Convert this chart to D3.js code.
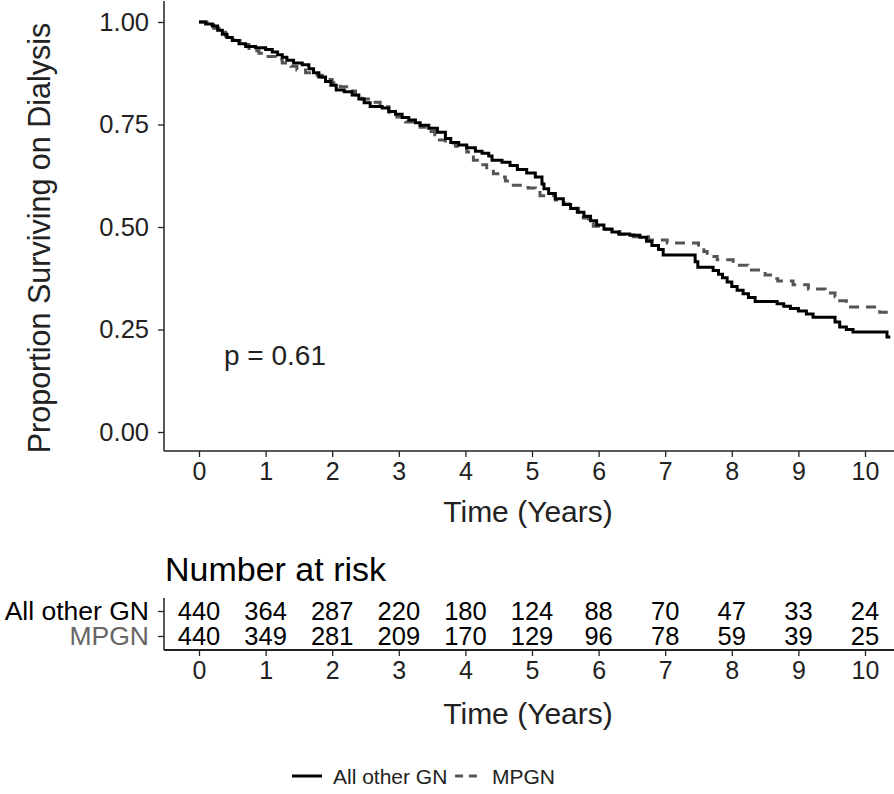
<!DOCTYPE html>
<html>
<head>
<meta charset="utf-8">
<script src="https://cdn.jsdelivr.net/npm/d3@7"></script>
<style>
  html, body { margin: 0; padding: 0; background: #fff; }
  svg { display: block; font-family: "Liberation Sans", Arial, Helvetica, sans-serif; }
</style>
</head>
<body>
<svg id="chart" width="894" height="794"></svg>
<script>
// ---------- DATA ----------
const groups = ["All other GN", "MPGN"];
const xTicks = [0, 1, 2, 3, 4, 5, 6, 7, 8, 9, 10];
const yTicks = [0, 0.25, 0.5, 0.75, 1];
const yTickLabels = ["0.00", "0.25", "0.50", "0.75", "1.00"];
const pValueLabel = "p = 0.61";

// Kaplan-Meier step estimates (time in years, survival proportion)
const otherTime = [0, 0.10, 0.20, 0.28, 0.35, 0.42, 0.50, 0.60, 0.70, 0.85, 1.00, 1.10, 1.18, 1.25, 1.32, 1.42, 1.55, 1.65, 1.72, 1.80, 1.90, 1.98, 2.06, 2.18, 2.30, 2.40, 2.48, 2.57, 2.75, 2.85, 2.95, 3.05, 3.15, 3.25, 3.32, 3.45, 3.58, 3.70, 3.78, 3.90, 4.02, 4.15, 4.25, 4.35, 4.40, 4.55, 4.67, 4.78, 4.92, 5.05, 5.15, 5.18, 5.25, 5.35, 5.47, 5.58, 5.68, 5.78, 5.88, 5.97, 6.08, 6.20, 6.30, 6.47, 6.62, 6.72, 6.80, 6.90, 6.97, 7.45, 7.49, 7.72, 7.80, 7.86, 7.93, 8.00, 8.08, 8.17, 8.25, 8.35, 8.68, 8.78, 8.88, 9.00, 9.12, 9.22, 9.55, 9.62, 9.72, 9.82, 10.33, 10.38];
const otherSurv = [1.000, 0.995, 0.990, 0.980, 0.970, 0.962, 0.955, 0.947, 0.940, 0.937, 0.933, 0.927, 0.920, 0.914, 0.907, 0.900, 0.896, 0.886, 0.876, 0.866, 0.855, 0.846, 0.834, 0.830, 0.822, 0.812, 0.803, 0.794, 0.790, 0.782, 0.775, 0.767, 0.761, 0.754, 0.748, 0.741, 0.731, 0.716, 0.706, 0.700, 0.693, 0.685, 0.680, 0.673, 0.663, 0.658, 0.650, 0.640, 0.632, 0.622, 0.605, 0.593, 0.582, 0.569, 0.555, 0.545, 0.536, 0.526, 0.515, 0.505, 0.495, 0.488, 0.483, 0.480, 0.475, 0.465, 0.455, 0.445, 0.432, 0.415, 0.402, 0.394, 0.385, 0.376, 0.366, 0.355, 0.346, 0.337, 0.328, 0.318, 0.313, 0.307, 0.301, 0.295, 0.288, 0.280, 0.268, 0.256, 0.250, 0.244, 0.232, 0.232];

const mpgnTime = [0, 0.12, 0.22, 0.30, 0.40, 0.52, 0.65, 0.75, 0.90, 1.00, 1.15, 1.25, 1.38, 1.47, 1.60, 1.72, 1.85, 2.00, 2.12, 2.25, 2.35, 2.45, 2.58, 2.72, 2.85, 2.97, 3.10, 3.22, 3.32, 3.42, 3.54, 3.70, 3.85, 4.02, 4.12, 4.22, 4.32, 4.42, 4.52, 4.60, 4.67, 4.94, 5.05, 5.12, 5.35, 5.48, 5.60, 5.70, 5.77, 5.85, 5.92, 6.10, 6.32, 6.52, 6.75, 7.03, 7.50, 7.58, 7.63, 7.78, 8.02, 8.24, 8.50, 8.62, 8.69, 8.92, 9.15, 9.40, 9.55, 9.62, 9.72, 10.22, 10.38];
const mpgnSurv = [1.000, 0.993, 0.985, 0.975, 0.965, 0.955, 0.945, 0.930, 0.924, 0.916, 0.908, 0.900, 0.892, 0.883, 0.876, 0.870, 0.860, 0.852, 0.842, 0.832, 0.822, 0.812, 0.804, 0.793, 0.780, 0.768, 0.756, 0.750, 0.743, 0.733, 0.712, 0.705, 0.697, 0.683, 0.663, 0.652, 0.640, 0.630, 0.622, 0.612, 0.602, 0.595, 0.584, 0.576, 0.566, 0.556, 0.546, 0.532, 0.522, 0.510, 0.502, 0.494, 0.482, 0.476, 0.468, 0.461, 0.452, 0.440, 0.428, 0.420, 0.407, 0.395, 0.383, 0.374, 0.368, 0.359, 0.349, 0.339, 0.330, 0.320, 0.305, 0.292, 0.288];

// Number at risk
const riskOther = [440, 364, 287, 220, 180, 124, 88, 70, 47, 33, 24];
const riskMPGN = [440, 349, 281, 209, 170, 129, 96, 78, 59, 39, 25];

// ---------- DRAW ----------
const svg = d3.select("#chart");
const W = 894;
const axisColor = "#222";
const textColor = "#222";
const FF = "Liberation Sans, Arial, sans-serif";

const x = d3.scaleLinear().domain([0, 10]).range([199, 865]);
const y = d3.scaleLinear().domain([0, 1]).range([432, 22]);
const plotLeft = 164, plotRight = W, plotTop = 1, plotBottom = 451;

// clip
svg.append("defs").append("clipPath").attr("id", "clip")
  .append("rect").attr("x", plotLeft).attr("y", plotTop)
  .attr("width", plotRight - plotLeft).attr("height", plotBottom - plotTop);

// Y axis
const yAxis = d3.axisLeft(y).tickValues(yTicks)
  .tickFormat((d, i) => yTickLabels[i]).tickSize(6).tickPadding(9).tickSizeOuter(0);
const gy = svg.append("g").attr("transform", `translate(${plotLeft},0)`).call(yAxis);
gy.select(".domain").remove();
gy.append("line").attr("x1", 0).attr("x2", 0).attr("y1", plotTop).attr("y2", plotBottom)
  .attr("stroke", axisColor).attr("stroke-width", 1.5);
gy.selectAll(".tick line").attr("stroke", axisColor).attr("stroke-width", 1.3);
gy.selectAll(".tick text").attr("font-size", 25.5).attr("fill", textColor).attr("font-family", FF);

// X axis
const xAxis = d3.axisBottom(x).tickValues(xTicks).tickSize(6).tickPadding(5).tickSizeOuter(0);
const gx = svg.append("g").attr("transform", `translate(0,${plotBottom})`).call(xAxis);
gx.select(".domain").remove();
gx.append("line").attr("x1", plotLeft).attr("x2", plotRight).attr("y1", 0).attr("y2", 0)
  .attr("stroke", axisColor).attr("stroke-width", 1.5);
gx.selectAll(".tick line").attr("stroke", axisColor).attr("stroke-width", 1.3);
gx.selectAll(".tick text").attr("font-size", 25).attr("fill", textColor).attr("font-family", FF);

// Axis titles
svg.append("text").attr("x", 528).attr("y", 522).attr("text-anchor", "middle")
  .attr("font-size", 30).attr("fill", textColor).text("Time (Years)");
svg.append("text").attr("transform", "translate(50,238) rotate(-90)")
  .attr("text-anchor", "middle").attr("font-size", 30.5).attr("fill", textColor)
  .text("Proportion Surviving on Dialysis");

// Curves
const line = d3.line().x(d => x(d[0])).y(d => y(d[1])).curve(d3.curveStepAfter);
const plot = svg.append("g").attr("clip-path", "url(#clip)");
const otherData = otherTime.map((t, i) => [t, otherSurv[i]]);
const mpgnData = mpgnTime.map((t, i) => [t, mpgnSurv[i]]);
plot.append("path").datum(mpgnData).attr("d", line)
  .attr("fill", "none").attr("stroke", "#555").attr("stroke-width", 3)
  .attr("stroke-dasharray", "10,7");
plot.append("path").datum(otherData).attr("d", line)
  .attr("fill", "none").attr("stroke", "#000").attr("stroke-width", 3);

// p-value
svg.append("text").attr("x", 224).attr("y", 365).attr("font-size", 28)
  .attr("fill", textColor).text(pValueLabel);

// ---------- Risk table ----------
svg.append("text").attr("x", 165).attr("y", 581).attr("font-size", 34)
  .attr("fill", "#000").text("Number at risk");

const rowY = d3.scalePoint().domain(groups).range([611, 636]);
const rtTop = 598, rtBottom = 650;

const gry = svg.append("g").attr("transform", `translate(${plotLeft},0)`)
  .call(d3.axisLeft(rowY).tickSize(6).tickPadding(9).tickSizeOuter(0));
gry.select(".domain").remove();
gry.append("line").attr("x1", 0).attr("x2", 0).attr("y1", rtTop).attr("y2", rtBottom)
  .attr("stroke", axisColor).attr("stroke-width", 1.5);
gry.selectAll(".tick line").attr("stroke", axisColor).attr("stroke-width", 1.3);
gry.selectAll(".tick text").attr("font-size", 26.5).attr("font-family", FF)
  .attr("fill", d => d === "MPGN" ? "#666" : "#000");

const grx = svg.append("g").attr("transform", `translate(0,${rtBottom})`)
  .call(d3.axisBottom(x).tickValues(xTicks).tickSize(6).tickPadding(5).tickSizeOuter(0));
grx.select(".domain").remove();
grx.append("line").attr("x1", plotLeft).attr("x2", plotRight).attr("y1", 0).attr("y2", 0)
  .attr("stroke", axisColor).attr("stroke-width", 1.8);
grx.selectAll(".tick line").attr("stroke", axisColor).attr("stroke-width", 1.3);
grx.selectAll(".tick text").attr("font-size", 25).attr("fill", textColor).attr("font-family", FF);

svg.append("text").attr("x", 528).attr("y", 724).attr("text-anchor", "middle")
  .attr("font-size", 30).attr("fill", textColor).text("Time (Years)");

const riskRows = [riskOther, riskMPGN];
riskRows.forEach((row, gi) => {
  svg.append("g").selectAll("text").data(row).join("text")
    .attr("x", (d, i) => x(xTicks[i]))
    .attr("y", rowY(groups[gi]))
    .attr("dy", "0.36em")
    .attr("text-anchor", "middle")
    .attr("font-size", 25.5)
    .attr("fill", "#000")
    .text(d => d);
});

// ---------- Legend ----------
const lg = svg.append("g");
lg.append("line").attr("x1", 292).attr("x2", 322).attr("y1", 776).attr("y2", 776)
  .attr("stroke", "#000").attr("stroke-width", 3);
lg.append("text").attr("x", 333).attr("y", 776).attr("dy", "0.36em")
  .attr("font-size", 21).attr("fill", "#222").text(groups[0]);
lg.append("line").attr("x1", 455).attr("x2", 482).attr("y1", 776).attr("y2", 776)
  .attr("stroke", "#555").attr("stroke-width", 3).attr("stroke-dasharray", "8,6");
lg.append("text").attr("x", 492).attr("y", 776).attr("dy", "0.36em")
  .attr("font-size", 21).attr("fill", "#222").text(groups[1]);
</script>
</body>
</html>
